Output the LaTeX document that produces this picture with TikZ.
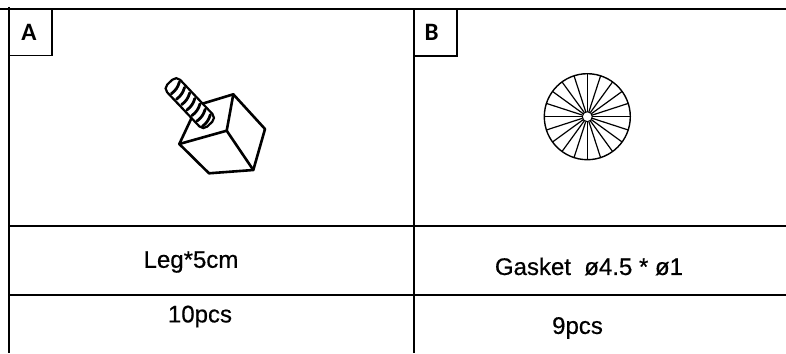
\documentclass[tikz,border=0pt]{standalone}
\usepackage{fontspec}
\setmainfont{Liberation Sans}[FakeBold=0.5]
\newfontfamily\labfont{Carlito}
\usetikzlibrary{calc}
\tikzset{
  gridline/.style={line width=1.6pt,black},
  thinline/.style={line width=1.3pt,black},
  cubeline/.style={line width=2.6pt,black,line join=round,line cap=round},
  spoke/.style={line width=1.2pt,black},
  cell/.style={inner sep=0pt,font=\fontsize{24}{26}\selectfont},
  tag/.style={inner sep=0pt,font=\labfont\bfseries\fontsize{25}{27}\selectfont}
}
\begin{document}
\begin{tikzpicture}[x=1pt,y=-1pt]
\useasboundingbox (0,0) rectangle (786,353);
\fill[white] (0,0) rectangle (786,353);
% grid
\coordinate (tl) at (0,9); \coordinate (tr) at (786,9);
\coordinate (ml) at (9,226); \coordinate (mr) at (786,226);
\coordinate (nl) at (9,295); \coordinate (nr) at (786,295);
\coordinate (va) at (9,7); \coordinate (vb) at (9,353);
\coordinate (wa) at (414,9); \coordinate (wb) at (414,353);
\draw[gridline] (tl) -- (tr);
\draw[gridline] (ml) -- (mr);
\draw[gridline] (nl) -- (nr);
\draw[gridline] (va) -- (vb);
\draw[gridline] (wa) -- (wb);
% tags
\draw[thinline] (52,9) -- (52,55.5) -- (9,55.5);
\draw[thinline] (457,9) -- (457,56) -- (414,56);
\node[tag] (lab a) at (29,32) {A};
\node[tag] (lab b) at (431.5,32) {B};
% leg
\draw[cubeline] (203,103.5) -- (233.3,94.3) -- (265,129) -- (253.3,170) -- (209,173.3) -- (179.3,144) -- (192,117);
\draw[cubeline] (179.3,144) -- (226.7,130.7) -- (233.3,94.3);
\draw[cubeline] (226.7,130.7) -- (253.3,170);
\begin{scope}[shift={(173.3,85.7)},rotate=-46.6]
\draw[line width=2.2pt,black,fill=white,rounded corners=5.5pt] (-5,-9) rectangle (53,9);
\foreach \s in {3,10.5,18,25.5,33,40.5,48}
  \draw[line width=2.8pt,black,line cap=round] (\s-1.5,-7) to[bend left=18] (\s+1.5,7);
\end{scope}
% gasket
\coordinate (gc) at (587.3,116.7);
\draw[line width=1.4pt,black] (gc) circle (43);
\foreach \a in {0,18,...,342}
  \draw[spoke] ($(gc)+(\a:5)$) -- ($(gc)+(\a:43)$);
\draw[line width=1pt,black,fill=white] (gc) circle (5);
% text
\node[cell] (leg) at (191,262) {Leg*5cm};
\node[cell] (gasket) at (589,266.5) {Gasket\ \ ø4.5 * ø1};
\node[cell] (qa) at (200,316.5) {10pcs};
\node[cell] (qb) at (577.5,328) {9pcs};
\end{tikzpicture}
\end{document}
